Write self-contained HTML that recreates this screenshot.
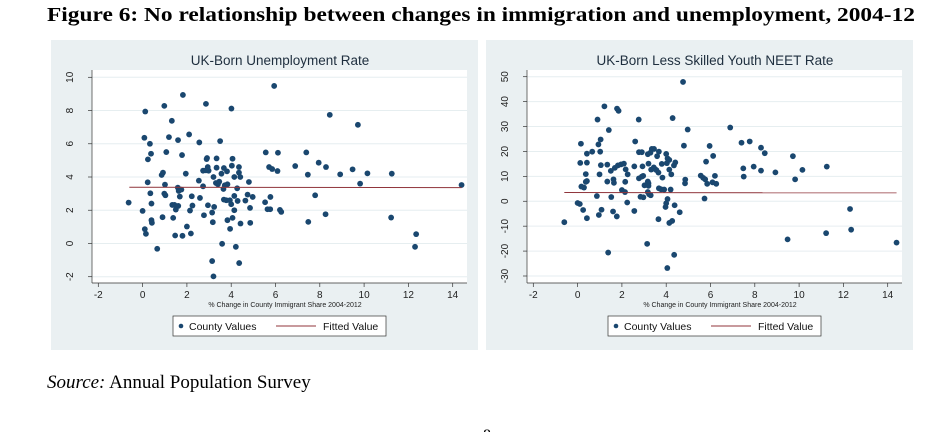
<!DOCTYPE html>
<html><head><meta charset="utf-8"><style>
body{margin:0;background:#fff;width:951px;height:432px;overflow:hidden}
svg{display:block}
</style></head><body>
<svg id="fig" width="951" height="432" xmlns="http://www.w3.org/2000/svg" font-family="Liberation Sans, sans-serif">
<text x="47" y="21" font-family="Liberation Serif, serif" font-weight="bold" font-size="20.5" textLength="868" lengthAdjust="spacingAndGlyphs">Figure 6: No relationship between changes in immigration and unemployment, 2004-12</text>
<text x="47" y="388" font-family="Liberation Serif, serif" font-size="19"><tspan font-style="italic">Source:</tspan> Annual Population Survey</text>
<text x="483" y="440" font-family="Liberation Serif, serif" font-size="16">8</text>
<g id="left"></g>
<g id="right"></g>
</svg>
<script>
const xChange=[-0.63,0.12,0.08,0.33,0.38,0.24,0.23,0.35,0.4,0.0,0.4,0.42,0.1,0.15,0.66,0.98,1.07,0.86,0.92,1.01,0.98,1.03,0.9,1.32,1.19,1.6,1.78,1.82,1.59,1.63,1.68,1.75,1.34,1.44,1.61,1.5,1.38,1.47,1.8,1.95,2.1,2.56,2.22,2.25,2.14,2.0,2.18,2.86,2.54,2.59,2.73,2.77,2.73,2.89,2.91,2.94,2.98,2.86,2.95,3.34,3.34,3.2,3.31,3.4,3.46,3.23,3.14,3.17,3.14,3.2,4.01,3.5,3.56,3.67,3.81,4.03,4.06,3.65,3.71,3.83,3.78,3.67,3.94,4.0,4.14,4.27,4.35,4.35,4.41,4.14,4.29,4.14,4.06,3.83,3.95,3.59,4.21,4.42,4.36,4.8,4.74,4.97,4.64,4.85,4.86,5.56,5.71,5.85,5.94,6.11,6.09,5.77,5.53,5.64,5.76,6.2,6.26,6.89,7.39,7.46,7.79,7.48,7.95,8.28,8.26,8.45,8.92,9.48,9.72,9.82,10.15,11.25,11.22,12.35,12.3,14.4];
const unempRate=[2.46,7.94,6.36,6.0,5.4,5.06,3.68,3.02,2.4,1.96,1.4,1.24,0.86,0.58,-0.32,8.28,5.5,4.12,4.26,3.54,3.0,2.9,1.58,7.38,6.4,6.22,5.32,8.94,3.36,3.16,2.82,3.24,2.32,2.32,2.26,2.04,1.54,0.48,0.46,4.2,6.56,6.08,2.84,2.28,1.98,1.02,0.6,8.4,3.78,2.74,3.44,1.7,4.38,5.08,5.14,4.6,4.38,4.4,2.3,5.12,4.56,4.0,3.64,3.56,3.72,2.2,1.86,1.28,-1.06,-1.98,8.12,6.16,4.2,4.54,4.34,4.68,5.1,3.28,3.5,3.56,2.6,2.64,2.6,2.36,4.0,3.32,4.26,4.6,4.0,2.86,2.56,2.0,1.54,1.4,0.88,-0.02,-0.2,1.2,-1.18,3.7,2.94,2.8,2.58,2.14,1.24,5.48,4.6,4.48,9.48,5.46,4.36,2.8,2.48,2.06,2.06,2.02,1.9,4.66,5.48,4.14,2.9,1.3,4.86,4.6,1.76,7.74,4.16,4.46,7.14,3.6,4.22,4.2,1.56,0.56,-0.2,3.52];
const xChange2=[-0.6,0,0.1,0.25,0.42,0.15,0.12,0.17,0.29,0.37,0.42,0.42,0.42,0.37,0.66,0.9,0.94,1.04,1.02,1.05,0.99,0.87,0.96,1.08,1.21,1.41,1.34,1.34,1.5,1.52,1.38,1.62,1.64,1.6,1.77,1.68,1.78,1.85,1.82,1.96,2.09,2.17,2.26,2.0,2.14,2.15,2.24,2.56,2.6,2.56,2.76,2.77,2.9,2.77,2.9,2.96,2.93,2.84,2.97,3.02,3.17,3.2,3.2,3.17,3.29,3.35,3.45,3.2,3.32,3.44,3.5,3.56,3.17,3.23,3.3,3.14,3.59,3.67,3.65,3.8,3.83,3.67,3.77,3.91,3.65,4.0,4.06,4.03,4.14,4.29,4.23,4.14,4.35,4.41,4.2,4.06,4.0,3.97,4.14,4.27,4.38,4.61,4.36,4.05,4.76,4.8,4.97,4.86,4.85,5.56,5.67,5.8,5.76,5.85,5.73,5.96,6.12,6.09,6.2,6.26,6.89,7.4,7.77,7.48,7.5,7.95,8.28,8.45,8.28,8.93,9.48,9.72,9.82,10.15,11.25,11.22,12.3,12.35,14.4];
const neetRate=[-8.4,-0.7,-1.1,-3.5,-6.8,23.1,15.4,5.9,5.5,10.9,19.1,15.5,8.1,7.8,19.9,32.8,22.8,24.8,19.9,14.5,10.8,2.1,-5.5,-3.4,38.1,28.6,14.7,7.9,12.2,1.7,-20.6,8.8,7.4,-4.1,-6.1,13.4,37.2,36.3,14.4,14.8,15.1,12.8,10.8,4.5,3.7,7.8,-0.5,14.0,24.0,-3.9,32.8,19.7,19.7,9.2,9.9,10.2,14.0,1.8,1.6,6.4,7.9,7.2,6.2,18.9,19.5,21.0,21.0,15.1,12.7,13.6,12.9,12.5,3.7,2.8,2.4,-17.1,18.1,19.9,11.5,15.0,9.5,5.2,4.8,4.7,-7.2,19.0,17.2,15.3,12.7,33.4,10.8,16.6,14.4,15.6,4.7,0.9,-0.8,-2.3,-8.7,-7.9,-1.6,-4.4,-21.5,-26.8,47.9,22.3,28.8,8.7,7.2,10.3,9.4,15.9,8.8,7.0,1.1,22.2,18.2,7.6,10.2,7.0,29.6,23.5,24.0,13.2,9.9,13.9,21.5,19.3,12.3,11.6,-15.3,18.1,8.8,12.6,13.9,-12.8,-3.1,-11.4,-16.6];
const xTicks=[-2,0,2,4,6,8,10,12,14];
const yTicksLeft=[-2,0,2,4,6,8,10];
const yTicksRight=[-30,-20,-10,0,10,20,30,40,50];
const fitLeft=[3.38,3.36];
const fitRight=[3.5,3.4];
const fitRange=[-0.6,14.4];

const NS='http://www.w3.org/2000/svg';
function mk(p,t,a,txt){const e=document.createElementNS(NS,t);for(const k in a)e.setAttribute(k,a[k]);if(txt!==undefined)e.textContent=txt;p.appendChild(e);return e;}

function panel(g,ox,title,xs,ys,yTicks,ymin,ymax,y0px,y1px,fit){
  const bg=mk(g,'rect',{x:ox,y:40,width:427,height:310,fill:'#eaf0f2'});
  
  
  const pl=ox+41,pr=ox+416,pt=70,pb=283;
  const pa=mk(g,'rect',{x:pl,y:pt,width:pr-pl,height:pb-pt,fill:'#fff'});
  
  
  const X=v=>ox+47.3+(v+2)*(354.4/16);
  const Y=v=>y0px+(v-ymin)*(y1px-y0px)/(ymax-ymin);
  const t=mk(g,'text',{x:ox+229,y:65,'text-anchor':'middle','font-size':13.5,fill:'#1e2e3e'},title);
  
  
  for(const v of yTicks){
    const gl=mk(g,'line',{x1:pl,x2:pr,y1:Y(v),y2:Y(v),stroke:'#e6eef0','stroke-width':1});
    
    
    mk(g,'line',{x1:pl-4,x2:pl,y1:Y(v),y2:Y(v),stroke:'#333','stroke-width':0.7});
    const tl=mk(g,'text',{x:0,y:0,'font-size':10,'text-anchor':'middle',fill:'#222',transform:`translate(${pl-19},${Y(v)}) rotate(-90)`},String(v));
    
    
  }
  mk(g,'line',{x1:pl,x2:pl,y1:pt,y2:pb,stroke:'#333','stroke-width':0.7});
  mk(g,'line',{x1:pl,x2:pr,y1:pb,y2:pb,stroke:'#333','stroke-width':0.7});
  for(const v of xTicks){
    mk(g,'line',{x1:X(v),x2:X(v),y1:pb,y2:pb+4,stroke:'#333','stroke-width':0.7});
    const tl=mk(g,'text',{x:X(v),y:pb+15,'font-size':10,'text-anchor':'middle',fill:'#222'},String(v));
    
    
  }
  const xt=mk(g,'text',{x:ox+234,y:pb+24,'font-size':7,'text-anchor':'middle',fill:'#222'},'% Change in County Immigrant Share 2004-2012');
  
  
  for(let i=0;i<xs.length;i++){
    const c=mk(g,'circle',{cx:X(xs[i]),cy:Y(ys[i]),r:2.9,fill:'#1a476f'});
    
    
  }
  const fl=mk(g,'line',{x1:X(fitRange[0]),x2:X(fitRange[1]),y1:Y(fit[0]),y2:Y(fit[1]),stroke:'#90353b','stroke-width':1});
  
  
  const lg=mk(g,'g',{});
  
  
  mk(lg,'rect',{x:ox+122,y:316,width:213,height:20,fill:'#fff',stroke:'#333','stroke-width':0.7});
  mk(lg,'circle',{cx:ox+130,cy:326,r:2.3,fill:'#1a476f'});
  const l1=mk(lg,'text',{x:ox+138,y:330,'font-size':10.5,fill:'#111'},'County Values');
  
  
  mk(lg,'line',{x1:ox+225,x2:ox+265,y1:326,y2:326,stroke:'#90353b','stroke-width':1});
  const l2=mk(lg,'text',{x:ox+272,y:330,'font-size':10.5,fill:'#111'},'Fitted Value');
  
  
}
panel(document.getElementById('left'),51,'UK-Born Unemployment Rate',xChange,unempRate,yTicksLeft,-2,10,276.7,77.3,fitLeft);
panel(document.getElementById('right'),486,'UK-Born Less Skilled Youth NEET Rate',xChange2,neetRate,yTicksRight,-30,50,276,76.7,fitRight);
</script>
</body></html>
